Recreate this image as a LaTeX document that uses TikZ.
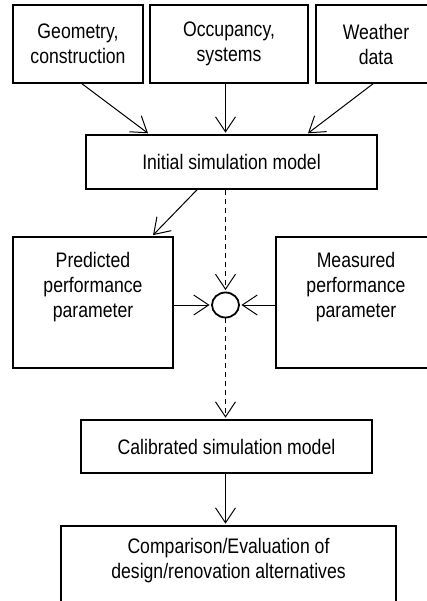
\documentclass[tikz,border=0pt]{standalone}
\usepackage{fontspec}
\setmainfont{Liberation Sans}[FakeStretch=0.84]
\usepackage{tikz}
\usetikzlibrary{calc, arrows.meta, shapes, positioning}
\tikzset{
    boxnode/.style = {draw, rectangle, line width=1.6pt, inner sep=0pt, align=center,
      font=\fontsize{21}{25}\selectfont},
    joinnode/.style = {draw, ellipse, line width=1.8pt, inner sep=0pt, minimum width=27pt, minimum height=25pt},
    connect/.style = {black, line width=1pt, -{Straight Barb[length=15pt, width=20pt, line width=1pt]}, shorten >=1.5pt},
    dashconnect/.style = {connect, dash pattern=on 5pt off 4pt}
}

\begin{document}
\begin{tikzpicture}[x=1pt, y=-1pt]
\useasboundingbox (0,0) rectangle (426,601);
% inputs
\node [name=geom, boxnode, minimum width=130pt, minimum height=78pt] at (78,44) {Geometry,\\construction};
\node [name=occup, boxnode, minimum width=158pt, minimum height=78pt] at (229,44) {Occupancy,\\systems};
\node [name=weather, boxnode, minimum width=120pt, minimum height=78pt] at (376,44) {Weather\\data};
\node [name=init, boxnode, minimum width=291pt, minimum height=54pt] at (231.5,162) {Initial simulation model};
% comparison
\node [name=pred, boxnode, minimum width=160pt, minimum height=131pt, text depth=36pt] at (93,302.5) {Predicted\\performance\\parameter};
\node [name=meas, boxnode, minimum width=160pt, minimum height=131pt, text depth=36pt] at (356,302.5) {Measured\\performance\\parameter};
\node [name=circ, joinnode] at (225.5,305) {};
% results
\node [name=calib, boxnode, minimum width=291pt, minimum height=53pt] at (226.5,446.5) {Calibrated simulation model};
\node [name=comp, boxnode, minimum width=335pt, minimum height=100pt, text depth=35pt] at (228.5,576) {Comparison/Evaluation of\\design/renovation alternatives};

\draw [connect] ([xshift=4pt]geom.south) -- ([xshift=64pt]init.north west);
\draw [connect] (occup.south -| circ) -- (init.north -| circ);
\draw [connect] ([xshift=-3pt]weather.south) -- ([xshift=-71pt]init.north east);
\draw [connect] ([xshift=-34.5pt]init.south) -- ([xshift=59pt]pred.north);
\draw [dashconnect] (init.south -| circ) -- (circ.north);
\draw [connect] (pred.east |- circ) -- (circ.west);
\draw [connect] (meas.west |- circ) -- (circ.east);
\draw [dashconnect] (circ.south) -- (calib.north -| circ);
\draw [connect] (calib.south -| circ) -- (comp.north -| circ);
\end{tikzpicture}
\end{document}
